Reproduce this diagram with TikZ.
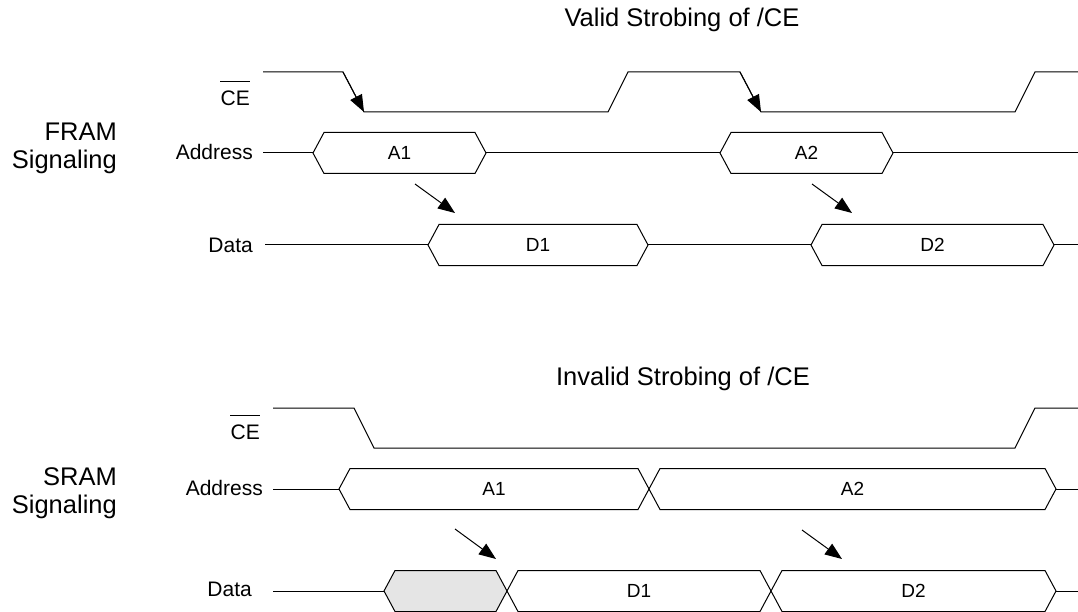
\documentclass[tikz,border=0pt]{standalone}
\usepackage{fontspec}
\setmainfont{Liberation Sans}
\usetikzlibrary{arrows.meta}

\begin{document}
\begin{tikzpicture}[x=1pt,y=-1pt,
   wave/.style={line width=1pt},
   bus/.style={wave,fill=white},
   strobe/.style={line width=1pt,-{Triangle[length=17pt,width=13pt]}},
   sectiontitle/.style={font=\fontsize{25.5}{30}\selectfont,anchor=base,inner sep=0pt},
   grouplabel/.style={font=\fontsize{25.5}{28}\selectfont,align=right,anchor=north east,inner sep=0pt},
   signame/.style={font=\fontsize{21}{25}\selectfont,anchor=east,inner sep=0pt},
   buslabel/.style={font=\fontsize{19}{22}\selectfont,inner sep=0pt}]
\useasboundingbox (0,0) rectangle (1078,612);

\node[sectiontitle] (valid) at (682,27) {Valid Strobing of /CE};
\node[grouplabel] (fram) at (117,123) {FRAM\\Signaling};
\node[signame] (ceA) at (250,98.5) {CE};
\draw[wave] ([yshift=9pt]ceA.north west) -- ([yshift=9pt]ceA.north east);
\node[signame] (addrA) at (253,152) {Address};
\node[signame] (dataA) at (253,245) {Data};

\coordinate (fallA1) at (343,72);
\coordinate (lowA1) at (364,112);
\coordinate (fallA2) at (740,72);
\coordinate (lowA2) at (761,112);
\draw[wave] (263,72) -- (fallA1) -- (lowA1) -- (608,112) -- (628,72) -- (fallA2) -- (lowA2)
   -- (1015,112) -- (1035,72) -- (1078,72);
\draw[strobe] (fallA1) -- (lowA1);
\draw[strobe] (fallA2) -- (lowA2);

\draw[wave] (263,153) -- (1078,153);
\draw[wave] (265,245) -- (1078,245);
\foreach \xl/\xr/\yc/\txt/\nm in {313/486/153/A1/busA1,720/893/153/A2/busA2,
   428/648/245/D1/busD1,811/1054/245/D2/busD2}{
  \draw[bus] (\xl,\yc) -- (\xl+11,\yc-20.5) -- (\xr-11,\yc-20.5) -- (\xr,\yc)
     -- (\xr-11,\yc+20.5) -- (\xl+11,\yc+20.5) -- cycle;
  \node[buslabel] (\nm) at ({(\xl+\xr)/2},\yc) {\txt};
}

\coordinate (fromA1) at (415,184);
\coordinate (toA1) at (455,213);
\coordinate (fromA2) at (812,184);
\coordinate (toA2) at (852,213);
\draw[strobe] (fromA1) -- (toA1);
\draw[strobe] (fromA2) -- (toA2);

\node[sectiontitle] (invalid) at (683,385) {Invalid Strobing of /CE};
\node[grouplabel] (sram) at (117,467) {SRAM\\Signaling};
\node[signame] (ceB) at (260,432) {CE};
\draw[wave] ([yshift=9pt]ceB.north west) -- ([yshift=9pt]ceB.north east);
\node[signame] (addrB) at (263,487.5) {Address};
\node[signame] (dataB) at (252,589.5) {Data};

\draw[wave] (273,408) -- (354,408) -- (374,448) -- (1015,448) -- (1035,408) -- (1078,408);

\draw[wave] (273,489) -- (1078,489);
\draw[wave] (273,591) -- (1078,591);
\draw[bus,fill=black!10] (384,591) -- (395,570.5) -- (496,570.5) -- (507,591)
   -- (496,611.5) -- (395,611.5) -- cycle;
\foreach \xl/\xr/\yc/\txt/\nm in {339/649/489/A1/busB1,649/1056/489/A2/busB2,
   507/771/591/D1/busE1,771/1056/591/D2/busE2}{
  \draw[bus] (\xl,\yc) -- (\xl+11,\yc-20.5) -- (\xr-11,\yc-20.5) -- (\xr,\yc)
     -- (\xr-11,\yc+20.5) -- (\xl+11,\yc+20.5) -- cycle;
  \node[buslabel] (\nm) at ({(\xl+\xr)/2},\yc) {\txt};
}

\coordinate (fromB1) at (455,529);
\coordinate (toB1) at (496,559);
\coordinate (fromB2) at (802,530);
\coordinate (toB2) at (842,559);
\draw[strobe] (fromB1) -- (toB1);
\draw[strobe] (fromB2) -- (toB2);
\end{tikzpicture}
\end{document}
